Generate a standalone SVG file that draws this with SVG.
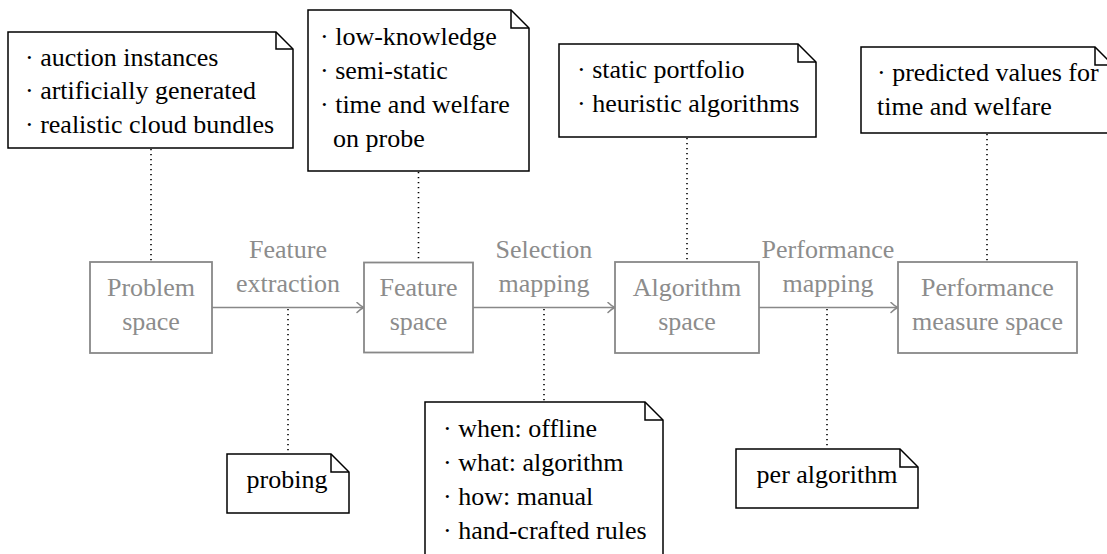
<svg xmlns="http://www.w3.org/2000/svg" width="1107" height="554" viewBox="0 0 1107 554">
  <defs>
    <style>
      .txt { font-family: "Liberation Serif", "DejaVu Serif", serif; font-size: 26px; }
      .note { fill: #ffffff; stroke: #000000; stroke-width: 1.5; stroke-linejoin: miter; }
      .fold { fill: none; stroke: #000000; stroke-width: 1.5; }
      .note-text { fill: #000000; }
      .space { fill: #ffffff; stroke: #888888; stroke-width: 1.8; }
      .space-text { fill: #8c8c8c; text-anchor: middle; }
      .edge { stroke: #888888; stroke-width: 1.6; fill: none; }
      .edge-text { fill: #8c8c8c; text-anchor: middle; }
      .link { stroke: #000000; stroke-width: 1.6; stroke-dasharray: 1.3 3.7; fill: none; }
    </style>
    <marker id="arrow" markerWidth="10" markerHeight="12" refX="9" refY="6" orient="auto" markerUnits="userSpaceOnUse">
      <path d="M2,1 Q6,5 9,6 Q6,7 2,11" fill="none" stroke="#888888" stroke-width="1.5" stroke-linecap="round"/>
    </marker>
  </defs>

  <rect width="1107" height="554" fill="#ffffff"/>

  <!-- connectors: mapping arrows and dotted annotation links -->
  <g id="connectors">
    <line class="edge" x1="212" y1="307.5" x2="364" y2="307.5" marker-end="url(#arrow)"/>
    <line class="edge" x1="473" y1="307.5" x2="615" y2="307.5" marker-end="url(#arrow)"/>
    <line class="edge" x1="759" y1="307.5" x2="898" y2="307.5" marker-end="url(#arrow)"/>
    <line class="link" x1="151" y1="149" x2="151" y2="262"/>
    <line class="link" x1="418.5" y1="172" x2="418.5" y2="262"/>
    <line class="link" x1="687" y1="138" x2="687" y2="262"/>
    <line class="link" x1="987" y1="134" x2="987" y2="262"/>
    <line class="link" x1="288" y1="309" x2="288" y2="454"/>
    <line class="link" x1="544" y1="309" x2="544" y2="402"/>
    <line class="link" x1="827" y1="309" x2="827" y2="449"/>
  </g>

  <!-- edge labels -->
  <g id="label-feature-extraction" class="txt edge-text">
    <text x="288" y="258">Feature</text>
    <text x="288" y="292">extraction</text>
  </g>
  <g id="label-selection-mapping" class="txt edge-text">
    <text x="544" y="258">Selection</text>
    <text x="544" y="292">mapping</text>
  </g>
  <g id="label-performance-mapping" class="txt edge-text">
    <text x="828" y="258">Performance</text>
    <text x="828" y="292">mapping</text>
  </g>

  <!-- spaces -->
  <g id="problem-space">
    <rect class="space" x="90" y="262" width="122" height="91"/>
    <text class="txt space-text" x="151" y="296">Problem</text>
    <text class="txt space-text" x="151" y="330">space</text>
  </g>
  <g id="feature-space">
    <rect class="space" x="364" y="262.5" width="109" height="90"/>
    <text class="txt space-text" x="418.5" y="296">Feature</text>
    <text class="txt space-text" x="418.5" y="330">space</text>
  </g>
  <g id="algorithm-space">
    <rect class="space" x="615" y="262" width="144" height="91"/>
    <text class="txt space-text" x="687" y="296">Algorithm</text>
    <text class="txt space-text" x="687" y="330">space</text>
  </g>
  <g id="performance-space">
    <rect class="space" x="898" y="262" width="179" height="91"/>
    <text class="txt space-text" x="987.5" y="296">Performance</text>
    <text class="txt space-text" x="987.5" y="330">measure space</text>
  </g>

  <!-- annotation notes -->
  <g id="note-problem">
    <path class="note" d="M8,32 H276 L293,49 V148 H8 Z"/>
    <path class="fold" d="M276,32 V49 H293"/>
    <text class="txt note-text" x="25" y="65.5">· auction instances</text>
    <text class="txt note-text" x="25" y="99">· artificially generated</text>
    <text class="txt note-text" x="25" y="132.5">· realistic cloud bundles</text>
  </g>
  <g id="note-feature">
    <path class="note" d="M308,10 H511 L529,28 V171 H308 Z"/>
    <path class="fold" d="M511,10 V28 H529"/>
    <text class="txt note-text" x="320" y="44.5">· low-knowledge</text>
    <text class="txt note-text" x="320" y="78.5">· semi-static</text>
    <text class="txt note-text" x="320" y="112.5">· time and welfare</text>
    <text class="txt note-text" x="333" y="146.5">on probe</text>
  </g>
  <g id="note-algorithm">
    <path class="note" d="M559,44 H798 L816,62 V137 H559 Z"/>
    <path class="fold" d="M798,44 V62 H816"/>
    <text class="txt note-text" x="577" y="78">· static portfolio</text>
    <text class="txt note-text" x="577" y="111.5">· heuristic algorithms</text>
  </g>
  <g id="note-performance">
    <path class="note" d="M861,47 H1095 L1113,65 V133 H861 Z"/>
    <path class="fold" d="M1095,47 V65 H1113"/>
    <text class="txt note-text" x="877" y="81">· predicted values for</text>
    <text class="txt note-text" x="877" y="114.5">time and welfare</text>
  </g>
  <g id="note-probing">
    <path class="note" d="M227,454 H331 L349,472 V513 H227 Z"/>
    <path class="fold" d="M331,454 V472 H349"/>
    <text class="txt note-text" x="287" y="488" text-anchor="middle">probing</text>
  </g>
  <g id="note-selection">
    <path class="note" d="M425,402 H645 L663,420 V560 H425 Z"/>
    <path class="fold" d="M645,402 V420 H663"/>
    <text class="txt note-text" x="443" y="437">· when: offline</text>
    <text class="txt note-text" x="443" y="471">· what: algorithm</text>
    <text class="txt note-text" x="443" y="505">· how: manual</text>
    <text class="txt note-text" x="443" y="539">· hand-crafted rules</text>
  </g>
  <g id="note-per-algorithm">
    <path class="note" d="M736,449 H900 L918,467 V508 H736 Z"/>
    <path class="fold" d="M900,449 V467 H918"/>
    <text class="txt note-text" x="827" y="483" text-anchor="middle">per algorithm</text>
  </g>
</svg>
